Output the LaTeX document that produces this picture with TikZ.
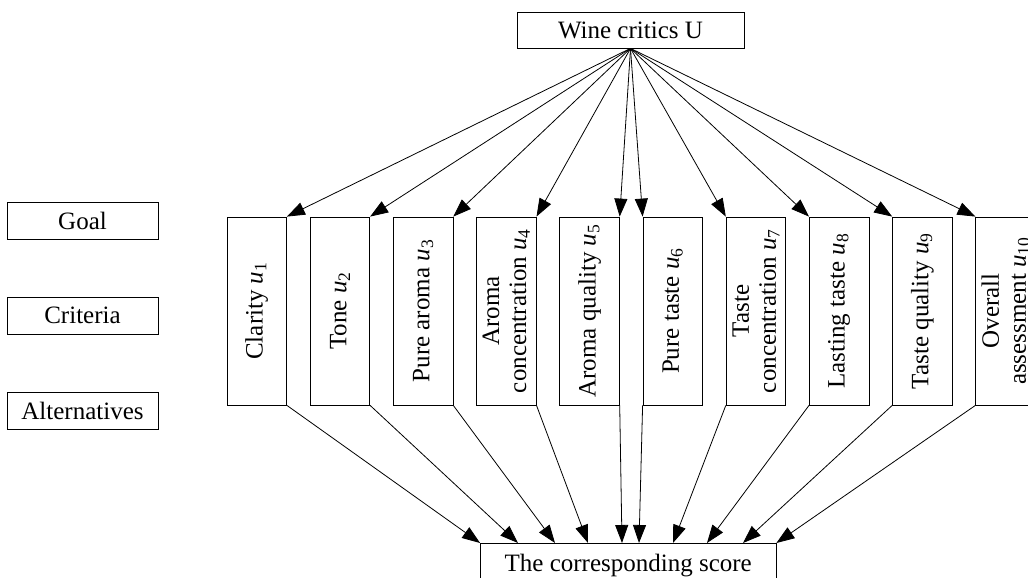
\documentclass[tikz,border=0pt]{standalone}
\usepackage{fontspec}
\setmainfont{Liberation Serif}
\usetikzlibrary{arrows.meta}
\tikzset{
  box/.style={draw, line width=0.8pt, inner sep=0pt, font=\fontsize{25}{27}\selectfont},
  crit/.style={box, minimum width=59.5pt, minimum height=188pt},
  side/.style={box, minimum width=151pt, minimum height=37pt},
  lbl/.style={rotate=90, align=center, font=\fontsize{25}{27}\selectfont, inner sep=0pt},
  arr/.style={line width=0.8pt, -{Triangle[length=18pt,width=13pt]}},
}
\newcommand{\uu}[1]{\textit{u}\textsubscript{#1}}
\begin{document}
\begin{tikzpicture}[x=1pt,y=1pt]
\useasboundingbox (0,0) rectangle (1028,578);
\node[box, minimum width=227pt, minimum height=36pt] (top) at (630.5,548) {Wine critics U};
\node[side] (goal) at (82.5,357.5) {Goal};
\node[side] (crit) at (82.5,262.5) {Criteria};
\node[side] (alt) at (82.5,167) {Alternatives};
\foreach \i in {1,...,10} {
  \node[crit] (c\i) at ({256.75+83.2*(\i-1)},267) {};
}
\node[lbl] (t1) at (c1) {Clarity \uu{1}};
\node[lbl] (t2) at (c2) {Tone \uu{2}};
\node[lbl] (t3) at (c3) {Pure aroma \uu{3}};
\node[lbl] (t4) at (c4) {Aroma\\concentration \uu{4}};
\node[lbl] (t5) at (c5) {Aroma quality \uu{5}};
\node[lbl] (t6) at (c6) {Pure taste \uu{6}};
\node[lbl] (t7) at (c7) {Taste\\concentration \uu{7}};
\node[lbl] (t8) at (c8) {Lasting taste \uu{8}};
\node[lbl] (t9) at (c9) {Taste quality \uu{9}};
\node[lbl] (t10) at (c10) {Overall\\assessment \uu{10}};
\node[box, minimum width=295.5pt, minimum height=45pt, anchor=north] (bot) at (628.25,35) {The corresponding score};
\coordinate (e1) at (bot.north west);
\coordinate (e2) at (518,35);
\coordinate (e3) at (555,35);
\coordinate (e4) at (588,35);
\coordinate (e5) at (622,35);
\coordinate (e6) at (639,35);
\coordinate (e7) at (673,35);
\coordinate (e8) at (707,35);
\coordinate (e9) at (743,35);
\coordinate (e10) at (bot.north east);
\foreach \i in {1,...,5} {
  \draw[arr] (top.south) -- (c\i.north east);
  \draw[arr] (c\i.south east) -- (e\i);
}
\foreach \i in {6,...,10} {
  \draw[arr] (top.south) -- (c\i.north west);
  \draw[arr] (c\i.south west) -- (e\i);
}
\end{tikzpicture}
\end{document}
